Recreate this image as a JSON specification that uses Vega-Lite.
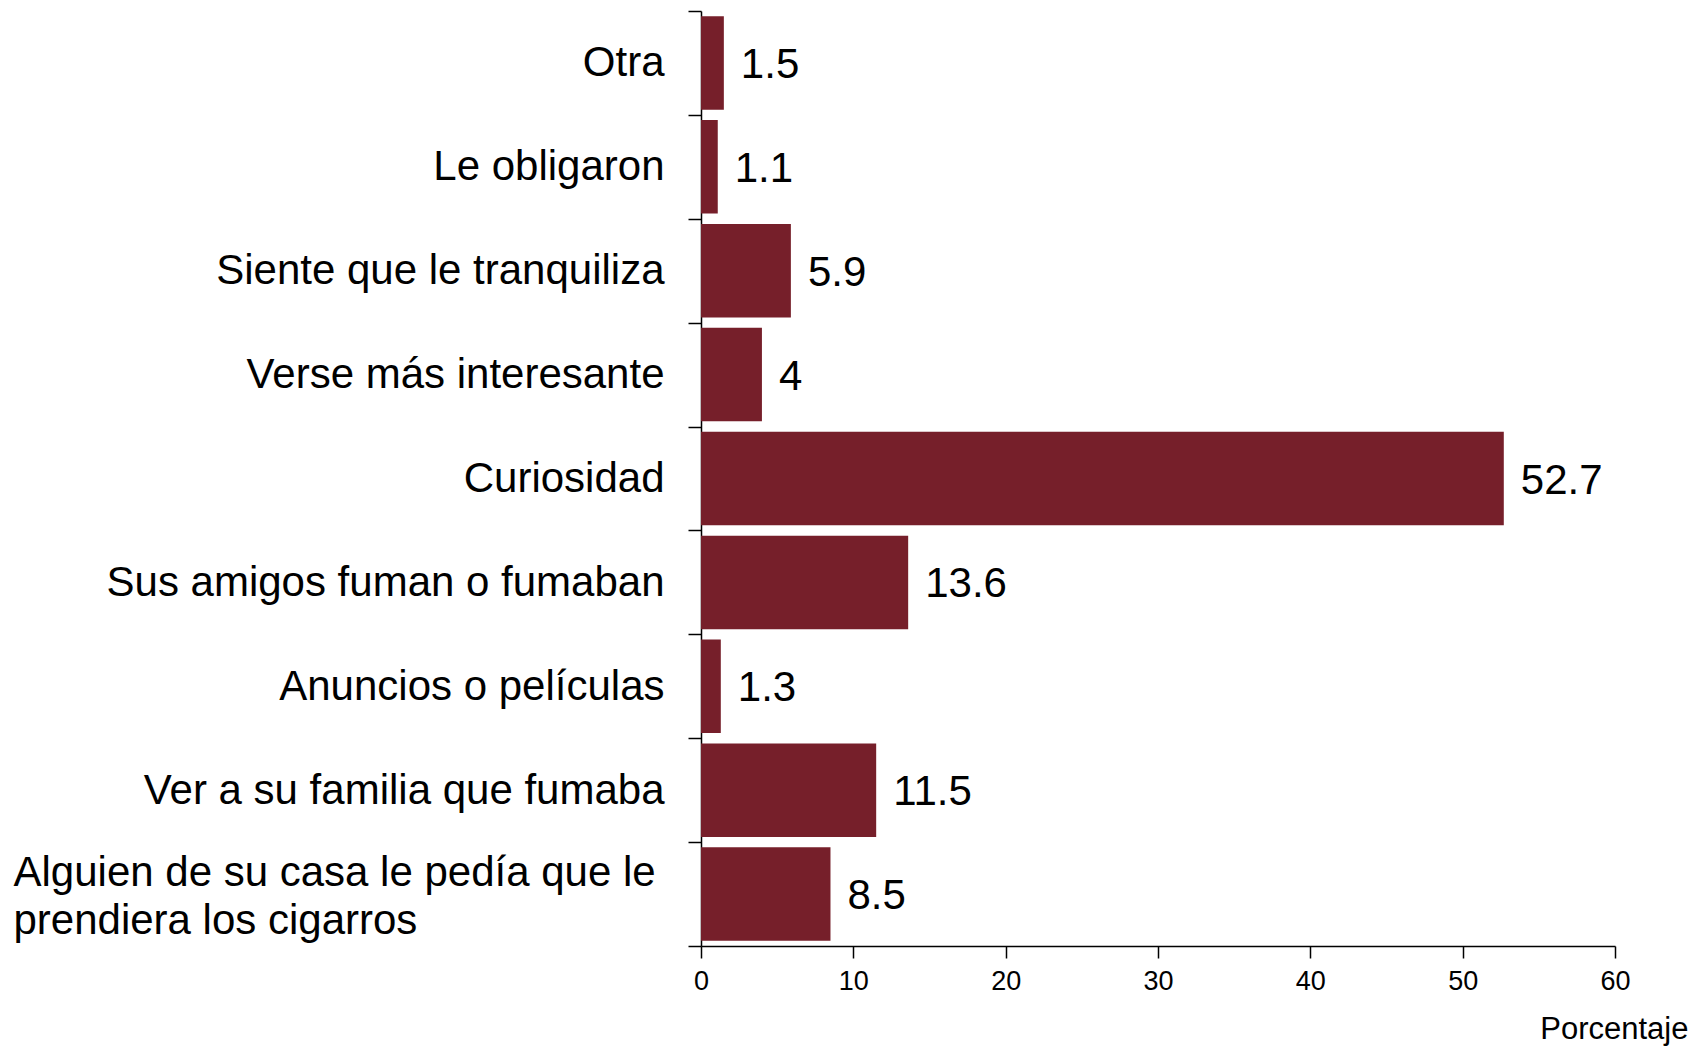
{
  "$schema": "https://vega.github.io/schema/vega-lite/v6.json",
  "width": 914,
  "height": 935,
  "autosize": {"type": "none"},
  "padding": {"left": 701, "top": 11, "right": 89, "bottom": 101},
  "background": "#ffffff",
  "config": {
    "view": {"stroke": null},
    "font": "Liberation Sans"
  },
  "data": {
    "values": [
      {"motivo": "Otra", "pct": 1.5},
      {"motivo": "Le obligaron", "pct": 1.1},
      {"motivo": "Siente que le tranquiliza", "pct": 5.9},
      {"motivo": "Verse más interesante", "pct": 4},
      {"motivo": "Curiosidad", "pct": 52.7},
      {"motivo": "Sus amigos fuman o fumaban", "pct": 13.6},
      {"motivo": "Anuncios o películas", "pct": 1.3},
      {"motivo": "Ver a su familia que fumaba", "pct": 11.5},
      {"motivo": "Alguien de su casa le pedía que le prendiera los cigarros", "pct": 8.5}
    ]
  },
  "encoding": {
    "y": {
      "field": "motivo",
      "type": "nominal",
      "sort": null,
      "scale": {"paddingInner": 0, "paddingOuter": 0},
      "axis": {
        "title": null,
        "tickBand": "extent",
        "domainColor": "#000000",
        "domainWidth": 1.5,
        "tickColor": "#000000",
        "tickWidth": 1.5,
        "tickSize": 13,
        "labelFontSize": 42,
        "labelColor": "#000000",
        "labelLimit": 800,
        "labelLineHeight": 48,
        "labelBaseline": "middle",
        "labelExpr": "datum.value == 'Alguien de su casa le pedía que le prendiera los cigarros' ? ['Alguien de su casa le pedía que le', 'prendiera los cigarros'] : datum.value",
        "labelAlign": {"condition": {"test": "datum.value == 'Alguien de su casa le pedía que le prendiera los cigarros'", "value": "left"}, "value": "right"},
        "labelPadding": {"condition": {"test": "datum.value == 'Alguien de su casa le pedía que le prendiera los cigarros'", "value": 675}, "value": 24},
        "labelOffset": {"condition": {"test": "datum.value == 'Alguien de su casa le pedía que le prendiera los cigarros'", "value": -22}, "value": 0}
      }
    },
    "x": {
      "field": "pct",
      "type": "quantitative",
      "scale": {"domain": [0, 60]},
      "axis": {
        "title": "Porcentaje",
        "values": [0, 10, 20, 30, 40, 50, 60],
        "grid": false,
        "labelFlush": false,
        "domainColor": "#000000",
        "domainWidth": 1.5,
        "tickColor": "#000000",
        "tickWidth": 1.5,
        "tickSize": 12,
        "labelFontSize": 27,
        "labelColor": "#000000",
        "labelPadding": 10,
        "titleFontSize": 31,
        "titleFontWeight": "normal",
        "titleColor": "#000000",
        "titleAnchor": "end",
        "titleAlign": "right",
        "titleBaseline": "alphabetic",
        "titleX": 987,
        "titleY": 92
      }
    }
  },
  "layer": [
    {
      "mark": {"type": "bar", "color": "#761F2A", "height": {"band": 0.9}}
    },
    {
      "mark": {"type": "text", "align": "left", "baseline": "middle", "dx": 17, "dy": 2, "fontSize": 42, "color": "#000000"},
      "encoding": {"text": {"field": "pct", "type": "quantitative"}}
    }
  ]
}
